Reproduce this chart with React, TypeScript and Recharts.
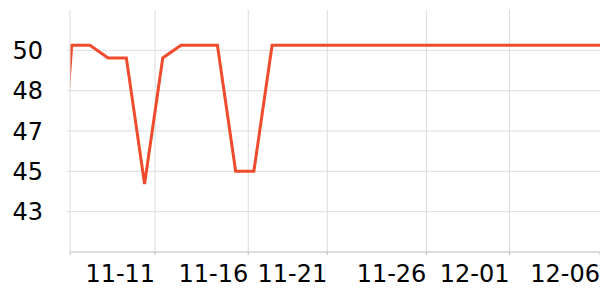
import React from "react";
import { LineChart, Line, XAxis, YAxis, ReferenceLine } from "recharts";

const dayIndex = [-1, 0, 1, 2, 3, 4, 5, 6, 7, 8, 9, 10, 11, 12, 13, 14, 15, 16, 17, 18, 19, 20, 21, 22, 23, 24, 25, 26, 27, 28, 29];
const values = [40, 50, 50, 49.5, 49.5, 44.5, 49.5, 50, 50, 50, 45, 45, 50, 50, 50, 50, 50, 50, 50, 50, 50, 50, 50, 50, 50, 50, 50, 50, 50, 50, 50];

const xTickPositions = [-0.093, 4.58, 9.69, 14.03, 19.47, 24.03, 29];
const xTickLabels = ["", "11-11", "11-16", "11-21", "11-26", "12-01", "12-06"];
const xGridPositions = [4.58, 9.69, 14.03, 19.47, 24.03];

const yTicks = [43.4, 45, 46.6, 48.2, 49.8];
const yDomain = [41.8, 51.4];

const data = dayIndex.map((d, i) => ({ d, v: values[i] }));

const FONT = "DejaVu Sans";
const GRID = "#dcdcdc";

const XTick = (props: any) => {
  const { x, y, payload } = props;
  const idx = xTickPositions.indexOf(payload.value);
  const label = idx >= 0 ? xTickLabels[idx] : "";
  return (
    <text x={x} y={y} dy="0.71em" textAnchor="end" fontFamily={FONT} fontSize={24} fill="#000">
      {label}
    </text>
  );
};

export default function App() {
  return (
    <div style={{ position: "absolute", left: 0, top: 0 }}>
      <LineChart width={600} height={300} data={data} margin={{ top: 10, right: 0, bottom: 0, left: 0 }}>
        <XAxis
          dataKey="d"
          type="number"
          domain={[xTickPositions[0], xTickPositions[xTickPositions.length - 1]]}
          ticks={xTickPositions}
          allowDataOverflow={true}
          interval={0}
          height={48}
          tickSize={3}
          tickMargin={10}
          stroke="#bcbcbc"
          tickLine={{ stroke: "#bcbcbc" }}
          tick={<XTick />}
        />
        <YAxis
          type="number"
          domain={yDomain}
          ticks={yTicks}
          allowDataOverflow={true}
          interval={0}
          width={70}
          tickSize={3}
          tickMargin={24}
          stroke={GRID}
          tickLine={{ stroke: GRID }}
          tickFormatter={(v: number) => String(Math.round(v))}
          tick={{ fontFamily: FONT, fontSize: 24, fill: "#000" }}
        />
        {yTicks.map((t) => (
          <ReferenceLine key={"h" + t} y={t} stroke={GRID} strokeWidth={1} ifOverflow="hidden" />
        ))}
        {xGridPositions.map((t) => (
          <ReferenceLine key={"v" + t} x={t} stroke={GRID} strokeWidth={1} ifOverflow="hidden" />
        ))}
        <Line
          type="linear"
          dataKey="v"
          stroke="#ef4b2c"
          strokeWidth={3}
          dot={false}
          activeDot={false}
          isAnimationActive={false}
        />
      </LineChart>
    </div>
  );
}
